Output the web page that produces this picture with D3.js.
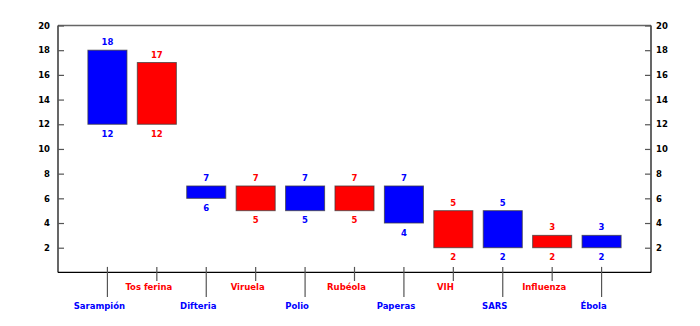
<!DOCTYPE html>
<html><head><meta charset="utf-8">
<script src="https://cdn.jsdelivr.net/npm/d3@7"></script>
<style>
html,body{margin:0;padding:0;background:#fff;}
text{font-family:"DejaVu Sans",sans-serif;font-weight:bold;font-size:8.5px;}
</style></head>
<body>
<svg id="chart" width="700" height="326"></svg>
<script>
const categories = ["Sarampión","Tos ferina","Difteria","Viruela","Polio","Rubéola","Paperas","VIH","SARS","Influenza","Ébola"];
const lowValues  = [12,12,6,5,5,5,4,2,2,2,2];
const highValues = [18,17,7,7,7,7,7,5,5,3,3];
const seriesColors = ["#0000ff","#ff0000"];
const yTicks = [2,4,6,8,10,12,14,16,18,20];

const svg = d3.select("#chart");
const L = 58, R = 651, T = 25.5, B = 272.4;
const x = d3.scaleLinear().domain([0, categories.length + 1]).range([L, R]);
const y = d3.scaleLinear().domain([0, 20]).range([B, T]);
const slot = (R - L) / (categories.length + 1);
const bw = slot * 0.79;
const color = i => seriesColors[i % 2];

// frame
svg.append("line").attr("x1",L).attr("x2",R).attr("y1",T).attr("y2",T).attr("stroke","#666").attr("stroke-width",1.5);
svg.append("line").attr("x1",L).attr("x2",R).attr("y1",B).attr("y2",B).attr("stroke","#000").attr("stroke-width",1.2);

// left axis
const yl = svg.append("g").attr("transform",`translate(${L},0)`)
  .call(d3.axisLeft(y).tickValues(yTicks).tickSize(-6).tickPadding(8).tickSizeOuter(0));
const yr = svg.append("g").attr("transform",`translate(${R},0)`)
  .call(d3.axisRight(y).tickValues(yTicks).tickSize(-6).tickPadding(10).tickSizeOuter(0));
[yl,yr].forEach(g=>{
  g.select(".domain").attr("stroke","#000").attr("stroke-width",1.2).attr("d",`M0,${B}V${T}`);
  g.selectAll(".tick line").attr("stroke","#555").attr("stroke-width",1.2);
  g.selectAll(".tick text").attr("fill","#000").style("font-size","8.5px");
});
yr.selectAll(".tick text").attr("x",5);
yl.selectAll(".tick text").attr("x",-8);

// bars
const g = svg.append("g");
categories.forEach((c,i)=>{
  const cx = x(i+1);
  g.append("rect")
    .attr("x", cx - bw/2).attr("width", bw)
    .attr("y", y(highValues[i])).attr("height", y(lowValues[i]) - y(highValues[i]))
    .attr("fill", color(i)).attr("stroke","rgba(60,60,60,0.75)").attr("stroke-width",1);
  g.append("text").attr("x",cx).attr("y",y(highValues[i]) - 5).attr("text-anchor","middle")
    .attr("fill",color(i)).text(highValues[i]);
  g.append("text").attr("x",cx).attr("y",y(lowValues[i]) + 12.5).attr("text-anchor","middle")
    .attr("fill",color(i)).text(lowValues[i]);
  // category tick and label
  const long = i % 2 === 0;
  g.append("line").attr("x1",cx).attr("x2",cx).attr("y1",B-5.5).attr("y2", long ? 297 : 281)
    .attr("stroke","#555").attr("stroke-width",1.2);
  g.append("text").attr("x",cx - 8).attr("y", long ? 309 : 290).attr("text-anchor","middle")
    .attr("fill",color(i)).text(c);
});
</script>
</body></html>
